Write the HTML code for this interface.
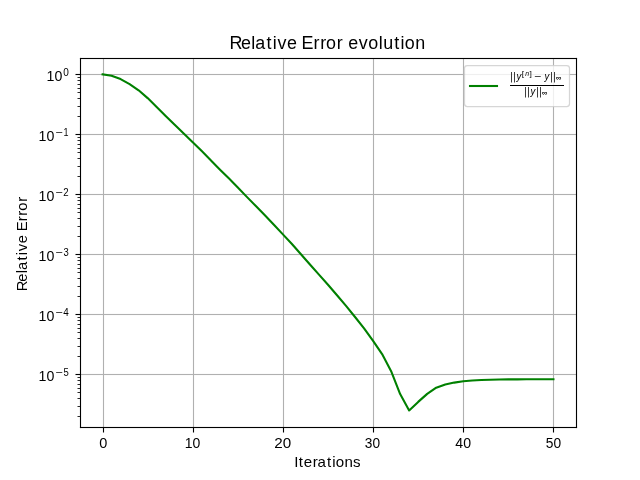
<!DOCTYPE html>
<html><head><meta charset="utf-8"><title>Relative Error evolution</title>
<style>html,body{margin:0;padding:0;background:#fff;}body{width:640px;height:480px;overflow:hidden;font-family:"Liberation Sans",sans-serif;}svg{display:block;position:absolute;left:0;top:0;will-change:transform;}text{font-family:"Liberation Sans",sans-serif;fill:#000;}</style>
</head><body>
<svg width="640" height="480" viewBox="0 0 640 480">
<rect x="0" y="0" width="640" height="480" fill="#ffffff"/>
<g fill="#b0b0b0">
<rect x="102.945" y="58" width="1.11" height="370"/>
<rect x="192.945" y="58" width="1.11" height="370"/>
<rect x="282.945" y="58" width="1.11" height="370"/>
<rect x="372.945" y="58" width="1.11" height="370"/>
<rect x="462.945" y="58" width="1.11" height="370"/>
<rect x="552.945" y="58" width="1.11" height="370"/>
<rect x="80" y="73.945" width="497" height="1.11"/>
<rect x="80" y="133.945" width="497" height="1.11"/>
<rect x="80" y="193.945" width="497" height="1.11"/>
<rect x="80" y="253.945" width="497" height="1.11"/>
<rect x="80" y="313.945" width="497" height="1.11"/>
<rect x="80" y="373.945" width="497" height="1.11"/>
</g>
<clipPath id="ax"><rect x="80" y="58" width="497" height="370"/></clipPath>
<polyline clip-path="url(#ax)" points="102.55,74.40 111.56,75.80 120.58,79.10 129.60,84.10 138.62,90.30 147.64,98.10 156.65,106.90 165.67,115.90 174.69,124.70 183.71,133.50 192.73,142.20 201.75,151.10 210.76,160.30 219.78,169.40 228.80,178.30 237.82,187.50 246.84,196.90 255.85,206.10 264.87,215.30 273.89,224.80 282.91,234.40 291.93,244.00 300.95,254.20 309.96,264.50 318.98,274.60 328.00,284.70 337.02,295.20 346.04,305.90 355.05,317.00 364.07,328.40 373.09,340.90 382.11,354.10 391.13,371.20 400.15,394.10 409.16,410.40 418.18,401.90 427.20,393.90 436.22,387.70 445.24,384.50 454.25,382.60 463.27,381.30 472.29,380.50 481.31,380.00 490.33,379.70 499.35,379.50 508.36,379.40 517.38,379.35 526.40,379.30 535.42,379.25 544.44,379.20 553.45,379.20" fill="none" stroke="#008000" stroke-width="2.083" stroke-linejoin="round" stroke-linecap="square"/>
<g fill="#000000">
<rect x="102.945" y="428" width="1.11" height="4.5"/>
<rect x="192.945" y="428" width="1.11" height="4.5"/>
<rect x="282.945" y="428" width="1.11" height="4.5"/>
<rect x="372.945" y="428" width="1.11" height="4.5"/>
<rect x="462.945" y="428" width="1.11" height="4.5"/>
<rect x="552.945" y="428" width="1.11" height="4.5"/>
<rect x="75.5" y="73.945" width="4.5" height="1.11"/>
<rect x="75.5" y="133.945" width="4.5" height="1.11"/>
<rect x="75.5" y="193.945" width="4.5" height="1.11"/>
<rect x="75.5" y="253.945" width="4.5" height="1.11"/>
<rect x="75.5" y="313.945" width="4.5" height="1.11"/>
<rect x="75.5" y="373.945" width="4.5" height="1.11"/>
<rect x="77.5" y="116.085" width="2.5" height="0.83"/>
<rect x="77.5" y="106.085" width="2.5" height="0.83"/>
<rect x="77.5" y="98.085" width="2.5" height="0.83"/>
<rect x="77.5" y="92.085" width="2.5" height="0.83"/>
<rect x="77.5" y="88.085" width="2.5" height="0.83"/>
<rect x="77.5" y="84.085" width="2.5" height="0.83"/>
<rect x="77.5" y="80.085" width="2.5" height="0.83"/>
<rect x="77.5" y="77.085" width="2.5" height="0.83"/>
<rect x="77.5" y="176.085" width="2.5" height="0.83"/>
<rect x="77.5" y="166.085" width="2.5" height="0.83"/>
<rect x="77.5" y="158.085" width="2.5" height="0.83"/>
<rect x="77.5" y="152.085" width="2.5" height="0.83"/>
<rect x="77.5" y="148.085" width="2.5" height="0.83"/>
<rect x="77.5" y="144.085" width="2.5" height="0.83"/>
<rect x="77.5" y="140.085" width="2.5" height="0.83"/>
<rect x="77.5" y="137.085" width="2.5" height="0.83"/>
<rect x="77.5" y="236.085" width="2.5" height="0.83"/>
<rect x="77.5" y="226.085" width="2.5" height="0.83"/>
<rect x="77.5" y="218.085" width="2.5" height="0.83"/>
<rect x="77.5" y="212.085" width="2.5" height="0.83"/>
<rect x="77.5" y="208.085" width="2.5" height="0.83"/>
<rect x="77.5" y="204.085" width="2.5" height="0.83"/>
<rect x="77.5" y="200.085" width="2.5" height="0.83"/>
<rect x="77.5" y="197.085" width="2.5" height="0.83"/>
<rect x="77.5" y="296.085" width="2.5" height="0.83"/>
<rect x="77.5" y="286.085" width="2.5" height="0.83"/>
<rect x="77.5" y="278.085" width="2.5" height="0.83"/>
<rect x="77.5" y="272.085" width="2.5" height="0.83"/>
<rect x="77.5" y="268.085" width="2.5" height="0.83"/>
<rect x="77.5" y="264.085" width="2.5" height="0.83"/>
<rect x="77.5" y="260.085" width="2.5" height="0.83"/>
<rect x="77.5" y="257.085" width="2.5" height="0.83"/>
<rect x="77.5" y="356.085" width="2.5" height="0.83"/>
<rect x="77.5" y="346.085" width="2.5" height="0.83"/>
<rect x="77.5" y="338.085" width="2.5" height="0.83"/>
<rect x="77.5" y="332.085" width="2.5" height="0.83"/>
<rect x="77.5" y="328.085" width="2.5" height="0.83"/>
<rect x="77.5" y="324.085" width="2.5" height="0.83"/>
<rect x="77.5" y="320.085" width="2.5" height="0.83"/>
<rect x="77.5" y="317.085" width="2.5" height="0.83"/>
<rect x="77.5" y="416.085" width="2.5" height="0.83"/>
<rect x="77.5" y="406.085" width="2.5" height="0.83"/>
<rect x="77.5" y="398.085" width="2.5" height="0.83"/>
<rect x="77.5" y="392.085" width="2.5" height="0.83"/>
<rect x="77.5" y="388.085" width="2.5" height="0.83"/>
<rect x="77.5" y="384.085" width="2.5" height="0.83"/>
<rect x="77.5" y="380.085" width="2.5" height="0.83"/>
<rect x="77.5" y="377.085" width="2.5" height="0.83"/>
<rect x="79.945" y="57.945" width="1.11" height="370.11"/>
<rect x="575.945" y="57.945" width="1.11" height="370.11"/>
<rect x="79.945" y="57.945" width="497.11" height="1.11"/>
<rect x="79.945" y="426.945" width="497.11" height="1.11"/>
</g>
<text transform="scale(1.0184,1)" x="225.43 236.62 246.82 250.54 261.76 267.76 272.41 281.80 291.68 296.09 307.90 314.37 320.09 330.70 336.69 342.04 352.36 361.69 371.89 376.36 387.18 393.17 397.49 407.70" y="49.00" font-size="17.6">Relative Error evolution</text>
<text transform="scale(1.0340,1)" x="284.47 289.05 293.83 302.55 307.06 316.30 321.24 324.76 333.16 341.38" y="467.00" font-size="14.6">Iterations</text>
<g transform="translate(27.0,0) rotate(-90)">
<text transform="scale(0.9845,1)" x="-295.87 -286.23 -277.45 -274.21 -264.55 -259.38 -255.33 -247.22 -238.74 -234.87 -224.71 -219.17 -214.14 -205.00" y="0.00" font-size="15.0">Relative Error</text>
</g>
<text x="99.32" y="448.00" font-size="14.0" textLength="8.08" lengthAdjust="spacingAndGlyphs">0</text>
<text x="184.66" y="448.00" font-size="14.0" textLength="15.58" lengthAdjust="spacingAndGlyphs">10</text>
<text x="274.24" y="448.00" font-size="14.0" textLength="16.91" lengthAdjust="spacingAndGlyphs">20</text>
<text x="364.86" y="448.00" font-size="14.0" textLength="15.23" lengthAdjust="spacingAndGlyphs">30</text>
<text x="455.37" y="448.00" font-size="14.0" textLength="15.73" lengthAdjust="spacingAndGlyphs">40</text>
<text x="545.79" y="448.00" font-size="14.0" textLength="15.30" lengthAdjust="spacingAndGlyphs">50</text>
<text x="46.64" y="81.00" font-size="14.0" textLength="15.78" lengthAdjust="spacingAndGlyphs">10</text>
<text x="63.30" y="76.00" font-size="10.4" textLength="5.59" lengthAdjust="spacingAndGlyphs">0</text>
<text x="38.64" y="141.00" font-size="14.0" textLength="15.78" lengthAdjust="spacingAndGlyphs">10</text>
<text x="55.37" y="136.00" font-size="10.4" textLength="7.34" lengthAdjust="spacingAndGlyphs">−</text>
<text x="63.62" y="136.00" font-size="10.4" textLength="5.02" lengthAdjust="spacingAndGlyphs">1</text>
<text x="38.64" y="201.00" font-size="14.0" textLength="15.78" lengthAdjust="spacingAndGlyphs">10</text>
<text x="55.37" y="196.00" font-size="10.4" textLength="7.34" lengthAdjust="spacingAndGlyphs">−</text>
<text x="63.32" y="196.00" font-size="10.4" textLength="5.38" lengthAdjust="spacingAndGlyphs">2</text>
<text x="38.64" y="261.00" font-size="14.0" textLength="15.78" lengthAdjust="spacingAndGlyphs">10</text>
<text x="55.37" y="256.00" font-size="10.4" textLength="7.34" lengthAdjust="spacingAndGlyphs">−</text>
<text x="63.44" y="256.00" font-size="10.4" textLength="5.27" lengthAdjust="spacingAndGlyphs">3</text>
<text x="38.64" y="321.00" font-size="14.0" textLength="15.78" lengthAdjust="spacingAndGlyphs">10</text>
<text x="55.37" y="316.00" font-size="10.4" textLength="7.34" lengthAdjust="spacingAndGlyphs">−</text>
<text x="63.28" y="316.00" font-size="10.4" textLength="5.51" lengthAdjust="spacingAndGlyphs">4</text>
<text x="38.64" y="381.00" font-size="14.0" textLength="15.78" lengthAdjust="spacingAndGlyphs">10</text>
<text x="55.37" y="376.00" font-size="10.4" textLength="7.34" lengthAdjust="spacingAndGlyphs">−</text>
<text x="63.52" y="376.00" font-size="10.4" textLength="5.27" lengthAdjust="spacingAndGlyphs">5</text>
<rect x="464.5" y="65.5" width="105" height="41" rx="2.78" ry="2.78" fill="#ffffff" fill-opacity="0.8" stroke="#cccccc" stroke-opacity="0.8" stroke-width="1.25"/>
<rect x="468.96" y="84.96" width="29.08" height="2.083" fill="#008000"/>
<g fill="#000000">
<rect x="510" y="85" width="54" height="1"/>
<rect x="511.125" y="72" width="0.75" height="10.5"/>
<rect x="514.125" y="72" width="0.75" height="10.5"/>
<rect x="551.125" y="72" width="0.75" height="10.5"/>
<rect x="554.125" y="72" width="0.75" height="10.5"/>
<rect x="525.125" y="87" width="0.75" height="10.5"/>
<rect x="528.125" y="87" width="0.75" height="10.5"/>
<rect x="537.125" y="87" width="0.75" height="10.5"/>
<rect x="540.125" y="87" width="0.75" height="10.5"/>
</g>
<text x="516.43" y="79.90" font-size="10.0" font-style="italic" textLength="4.79" lengthAdjust="spacingAndGlyphs">y</text>
<text x="534.59" y="79.90" font-size="10.0" textLength="7.10" lengthAdjust="spacingAndGlyphs">−</text>
<text x="544.43" y="79.90" font-size="10.0" font-style="italic" textLength="4.79" lengthAdjust="spacingAndGlyphs">y</text>
<text x="530.43" y="94.90" font-size="10.0" font-style="italic" textLength="4.79" lengthAdjust="spacingAndGlyphs">y</text>
<text x="521.88" y="75.70" font-size="6.9" textLength="2.39" lengthAdjust="spacingAndGlyphs">[</text>
<text x="525.18" y="75.70" font-size="7.0" font-style="italic" textLength="3.84" lengthAdjust="spacingAndGlyphs">n</text>
<text x="529.54" y="75.70" font-size="6.9" textLength="2.36" lengthAdjust="spacingAndGlyphs">]</text>
<text x="555.77" y="80.00" font-size="6.6" textLength="5.57" lengthAdjust="spacingAndGlyphs" stroke="#000" stroke-width="0.1">∞</text>
<text x="541.77" y="95.00" font-size="6.6" textLength="5.57" lengthAdjust="spacingAndGlyphs" stroke="#000" stroke-width="0.1">∞</text>
</svg>
</body></html>
